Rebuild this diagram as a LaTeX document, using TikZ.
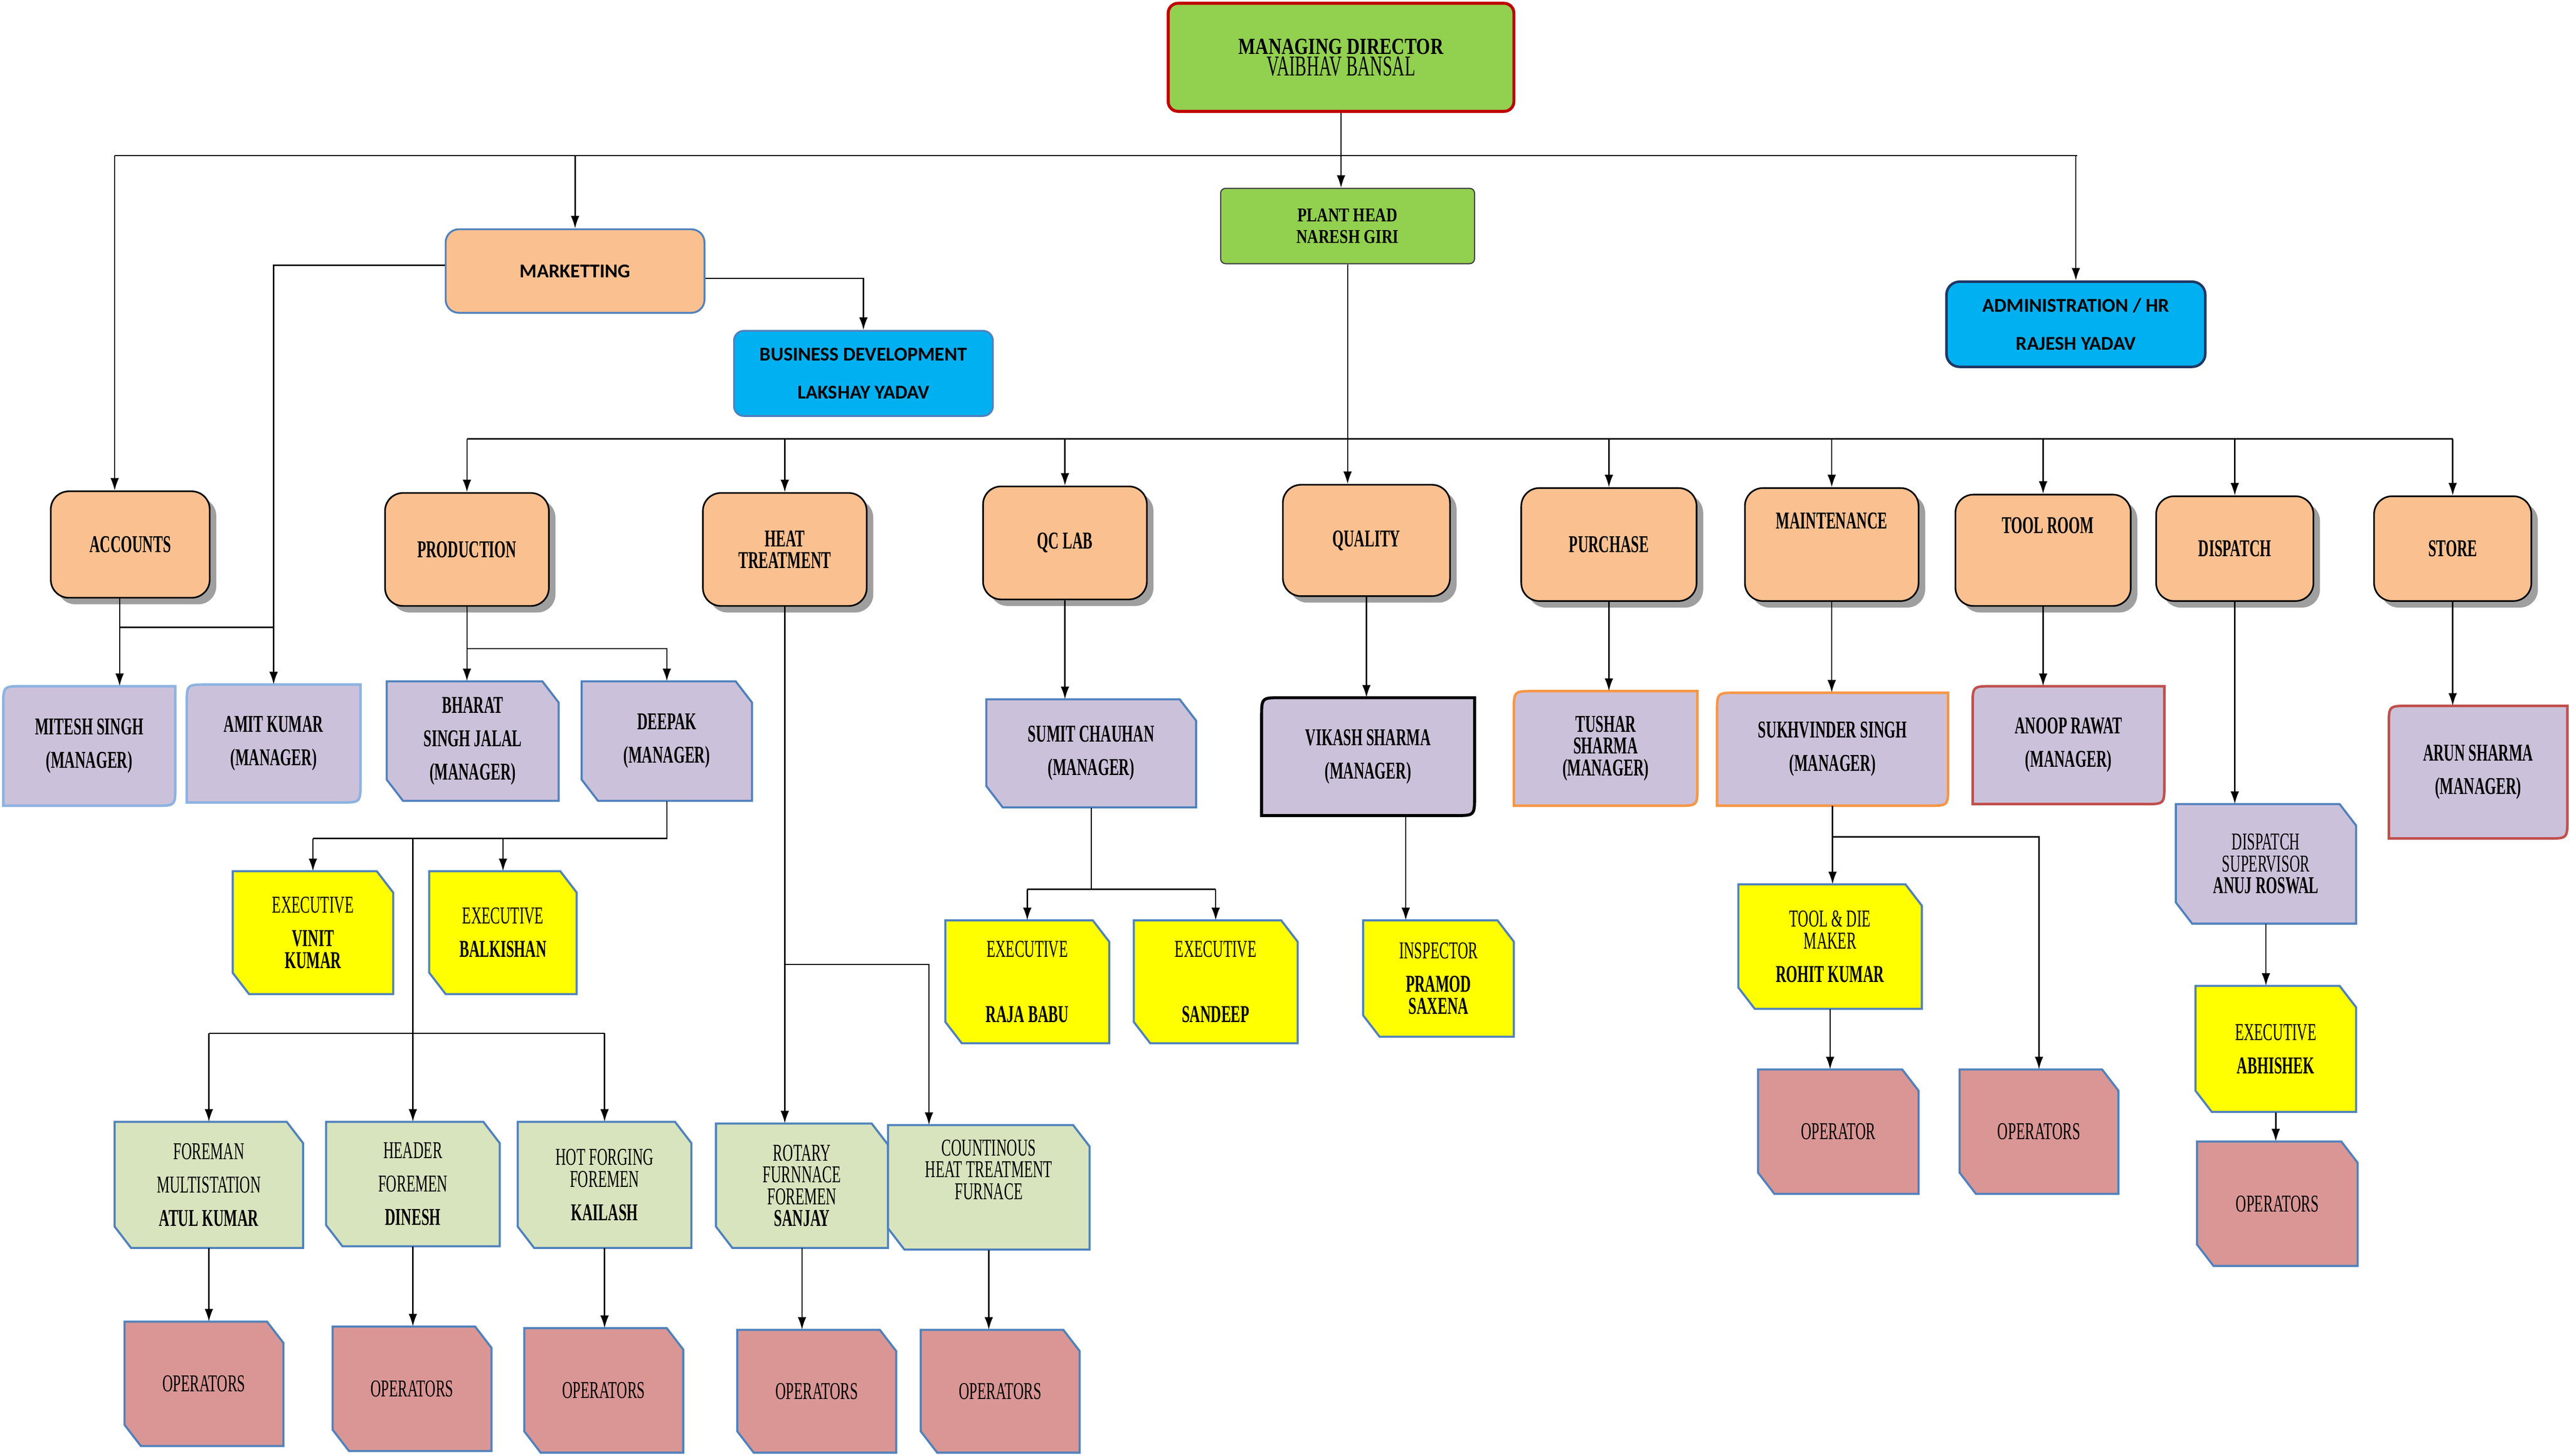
\documentclass[tikz,border=0pt]{standalone}
\usepackage{fontspec}
\setmainfont{Liberation Serif}[FakeStretch=0.6]
\newfontfamily\mdf{Liberation Serif}[FakeStretch=0.78]
\newfontfamily\calfont{Carlito}
\usetikzlibrary{arrows.meta,shadows}
\definecolor{orng}{HTML}{FAC090}
\definecolor{lil}{HTML}{CCC1DA}
\definecolor{ltb}{HTML}{8DB3E2}
\definecolor{blu}{HTML}{4F81BD}
\definecolor{yel}{HTML}{FFFF00}
\definecolor{grn}{HTML}{D7E4BD}
\definecolor{opc}{HTML}{D99694}
\definecolor{redb}{HTML}{C0504D}
\definecolor{orgb}{HTML}{F79646}
\definecolor{cyn}{HTML}{00B0F0}
\definecolor{gmd}{HTML}{92D050}
\definecolor{mdr}{HTML}{C00000}
\definecolor{navy}{HTML}{1F3864}
\tikzset{
 arr/.style={-{Latex[length=0.38cm,width=0.26cm]}, line width=1.1pt},
 ln/.style={line width=1.1pt},
 dept/.style={rectangle, rounded corners=0.55cm, fill=orng, draw=black, line width=1.4pt,
   drop shadow={shadow xshift=0.2cm,shadow yshift=-0.2cm,fill=gray!75,opacity=1},
   font=\bfseries\fontsize{21}{19}\selectfont, align=center, inner sep=0},
 tb/.style={inner sep=0, align=center, font=\fontsize{21}{19}\selectfont},
 snipB/.style={fill=lil, draw=blu, line width=1.8pt},
 snipY/.style={fill=yel, draw=blu, line width=1.8pt},
 snipG/.style={fill=grn, draw=blu, line width=1.8pt},
 snipO/.style={fill=opc, draw=blu, line width=1.8pt},
}
\newcommand\snipbox[7]{%
 \draw[#6] (#2,#3) -- ({#4-10},#3) -- (#4,{#3+13}) -- (#4,#5) -- ({#2+10},#5) -- (#2,{#5-13}) -- cycle;
 \node[tb,minimum width={(#4-#2)*0.05cm},minimum height={(#5-#3)*0.05cm}] (#1) at ({(#2+#4)/2},{(#3+#5)/2}) {#7};}
\newcommand\rtwo[7]{%
 \draw[#6] (#2,{#3+12}) .. controls (#2,#3) .. ({#2+12},#3) -- (#4,#3) -- (#4,{#5-12}) .. controls (#4,#5) .. ({#4-12},#5) -- (#2,#5) -- cycle;
 \node[tb,font=\bfseries\fontsize{21}{19}\selectfont,minimum width={(#4-#2)*0.05cm},minimum height={(#5-#3)*0.05cm}] (#1) at ({(#2+#4)/2},{(#3+#5)/2}) {#7};}
\newcommand\dep[6]{\node[dept,minimum width={#4*0.05cm},minimum height={#5*0.05cm}] (#1) at (#2,#3) {#6};}
\begin{document}
\begin{tikzpicture}[x=0.05cm,y=-0.05cm]
\path[use as bounding box] (0,0) rectangle (1568,889);
% top level
\node[rectangle,rounded corners=0.3cm,fill=gmd,draw=mdr,line width=2.6pt,minimum width=10.55cm,minimum height=3.3cm,align=center,inner sep=0] (md) at (818.5,35)
 {\mdf\bfseries\fontsize{20}{22}\selectfont MANAGING DIRECTOR\\[1pt]\fontsize{25}{27}\selectfont VAIBHAV BANSAL};
\node[rectangle,rounded corners=0.15cm,fill=gmd,draw=black!75,line width=1pt,minimum width=7.75cm,minimum height=2.3cm,align=center,inner sep=0,font=\mdf\bfseries\fontsize{17}{19}\selectfont] (ph) at (822.5,138) {PLANT HEAD\\NARESH GIRI};
\node[rectangle,rounded corners=0.4cm,fill=orng,draw=blu,line width=1.6pt,minimum width=7.9cm,minimum height=2.55cm,inner sep=0,font=\calfont\bfseries\fontsize{17}{19}\selectfont] (mk) at (351,165.5) {MARKETTING};
\node[rectangle,rounded corners=0.3cm,fill=cyn,draw=blu,line width=1.6pt,minimum width=7.9cm,minimum height=2.6cm,align=center,inner sep=0,font=\calfont\bfseries\fontsize{17}{19}\selectfont] (bd) at (527,228) {BUSINESS DEVELOPMENT\\[14pt]LAKSHAY YADAV};
\node[rectangle,rounded corners=0.4cm,fill=cyn,draw=navy,line width=2.2pt,minimum width=7.9cm,minimum height=2.6cm,align=center,inner sep=0,font=\calfont\bfseries\fontsize{17}{19}\selectfont] (hr) at (1267,198) {ADMINISTRATION / HR\\[14pt]RAJESH YADAV};
% departments
\dep{acc}{79.5}{332.5}{97}{65}{ACCOUNTS}
\dep{prod}{285}{335.5}{100}{69}{PRODUCTION}
\dep{heat}{479}{335.5}{100}{69}{HEAT\\TREATMENT}
\dep{qc}{650}{331.5}{100}{69}{QC LAB}
\dep{qual}{834}{330}{102}{68}{QUALITY}
\dep{pur}{982}{332.5}{107}{69}{PURCHASE}
\dep{mnt}{1118}{332.5}{106}{69}{}
\node[tb,font=\bfseries\fontsize{21}{19}\selectfont] (mntL) at (1118,318) {MAINTENANCE};
\dep{tool}{1247}{336}{107}{68}{}
\node[tb,font=\bfseries\fontsize{21}{19}\selectfont] (toolL) at (1250,321) {TOOL ROOM};
\dep{dsp}{1364}{335}{96}{64}{DISPATCH}
\dep{store}{1497}{335}{96}{64}{STORE}
% managers
\rtwo{mitesh}{2}{419}{107}{492}{fill=lil,draw=ltb,line width=2.2pt}{MITESH SINGH\\[10pt](MANAGER)}
\rtwo{amit}{114}{418}{220}{490}{fill=lil,draw=ltb,line width=2.2pt}{AMIT KUMAR\\[10pt](MANAGER)}
\rtwo{vik}{770}{426}{900}{498}{fill=lil,draw=black,line width=2.6pt}{VIKASH SHARMA\\[10pt](MANAGER)}
\rtwo{tushar}{924}{422}{1036}{492}{fill=lil,draw=orgb,line width=2.2pt}{TUSHAR\\SHARMA\\(MANAGER)}
\rtwo{sukh}{1048}{423}{1189}{492}{fill=lil,draw=orgb,line width=2.2pt}{SUKHVINDER SINGH\\[10pt](MANAGER)}
\rtwo{anoop}{1204}{419}{1321}{491}{fill=lil,draw=redb,line width=2.2pt}{ANOOP RAWAT\\[10pt](MANAGER)}
\rtwo{arun}{1458}{431}{1567}{512}{fill=lil,draw=redb,line width=2.2pt}{ARUN SHARMA\\[10pt](MANAGER)}
\snipbox{bharat}{236}{416}{341}{489}{snipB}{\textbf{BHARAT}\\[10pt]\textbf{SINGH JALAL}\\[10pt]\textbf{(MANAGER)}}
\snipbox{deepak}{355}{416}{459}{489}{snipB}{\textbf{DEEPAK}\\[10pt]\textbf{(MANAGER)}}
\snipbox{sumit}{602}{427}{730}{493}{snipB}{\textbf{SUMIT CHAUHAN}\\[10pt]\textbf{(MANAGER)}}
\snipbox{dsup}{1328}{491}{1438}{564}{snipB}{DISPATCH\\SUPERVISOR\\\textbf{ANUJ ROSWAL}}
% executives
\snipbox{vinit}{142}{532}{240}{607}{snipY}{EXECUTIVE\\[10pt]\textbf{VINIT}\\\textbf{KUMAR}}
\snipbox{balk}{262}{532}{352}{607}{snipY}{EXECUTIVE\\[10pt]\textbf{BALKISHAN}}
\snipbox{raja}{577}{562}{677}{637}{snipY}{EXECUTIVE\\[38pt]\textbf{RAJA BABU}}
\snipbox{sand}{692}{562}{792}{637}{snipY}{EXECUTIVE\\[38pt]\textbf{SANDEEP}}
\snipbox{prm}{832}{562}{924}{633}{snipY}{INSPECTOR\\[10pt]\textbf{PRAMOD}\\\textbf{SAXENA}}
\snipbox{tdm}{1061}{540}{1173}{616}{snipY}{TOOL \& DIE\\MAKER\\[10pt]\textbf{ROHIT KUMAR}}
\snipbox{abh}{1340}{602}{1438}{679}{snipY}{EXECUTIVE\\[10pt]\textbf{ABHISHEK}}
% foremen
\snipbox{fm}{70}{685}{185}{762}{snipG}{FOREMAN\\[10pt]MULTISTATION\\[10pt]\textbf{ATUL KUMAR}}
\snipbox{hdr}{199}{685}{305}{761}{snipG}{HEADER\\[10pt]FOREMEN\\[10pt]\textbf{DINESH}}
\snipbox{hf}{316}{685}{422}{762}{snipG}{HOT FORGING\\FOREMEN\\[10pt]\textbf{KAILASH}}
\snipbox{rot}{437}{686}{542}{762}{snipG}{ROTARY\\FURNNACE\\FOREMEN\\\textbf{SANJAY}}
\snipbox{cont}{542}{687}{665}{763}{snipG}{COUNTINOUS\\HEAT TREATMENT\\FURNACE\\[12pt]~}
% operators
\snipbox{op1}{76}{807}{173}{883}{snipO}{OPERATORS}
\snipbox{op2}{203}{810}{300}{886}{snipO}{OPERATORS}
\snipbox{op3}{320}{811}{417}{887}{snipO}{OPERATORS}
\snipbox{op4}{450}{812}{547}{887}{snipO}{OPERATORS}
\snipbox{op5}{562}{812}{659}{887}{snipO}{OPERATORS}
\snipbox{op6}{1073}{653}{1171}{729}{snipO}{OPERATOR}
\snipbox{op7}{1196}{653}{1293}{729}{snipO}{OPERATORS}
\snipbox{op8}{1341}{697}{1439}{773}{snipO}{OPERATORS}
% connectors
\coordinate (top) at (0,95);
\coordinate (tl) at (70,95);
\coordinate (tr) at (1268,95);
\draw[ln] (md.south) -- (md.south |- top);
\draw[ln] (tl) -- (tr);
\draw[arr] (tl) -- (acc.north -| tl);
\draw[arr] (mk.north |- top) -- (mk.north);
\draw[arr] (hr.north |- top) -- (hr.north);
\draw[arr] (md.south |- top) -- (md.south |- ph.north);
\coordinate (mkR) at (534,170);
\draw[arr] (mk.east |- mkR) -| (bd.north);
\coordinate (mkL) at (180,162);
\draw[arr] (mk.west |- mkL) -| (amit.north);
\coordinate (a1) at (73,383);
\draw[arr] (acc.south -| a1) -- (mitesh.north -| a1);
\draw[ln] (a1) -- (a1 -| amit.north);
\coordinate (bus) at (0,268);
\draw[arr] (ph.south) -- (ph.south |- qual.north);
\draw[ln] (prod.north |- bus) -- (store.north |- bus);
\foreach \n in {prod,heat,qc,pur,mnt,tool,dsp,store} \draw[arr] (\n.north |- bus) -- (\n.north);
\draw[arr] (prod.south) -- (prod.south |- bharat.north);
\coordinate (p396) at (0,396);
\draw[arr] (prod.south |- p396) -| (deepak.north);
\coordinate (d512) at (0,512);
\draw[ln] (deepak.south) -- (deepak.south |- d512) -- (d512 -| vinit.north);
\draw[arr] (d512 -| vinit.north) -- (vinit.north);
\draw[arr] (d512 -| balk.north) -- (balk.north);
\draw[arr] (d512 -| hdr.north) -- (hdr.north);
\coordinate (d631) at (0,631);
\draw[ln] (d631 -| fm.north) -- (d631 -| hf.north);
\draw[arr] (d631 -| fm.north) -- (fm.north);
\draw[arr] (d631 -| hf.north) -- (hf.north);
\foreach \pa/\ch in {fm/op1,hdr/op2,hf/op3,rot/op4,cont/op5,tdm/op6,abh/op8,qc/sumit,qual/vik,pur/tushar,mnt/sukh,tool/anoop,dsp/dsup,dsup/abh,store/arun,sukh/tdm}
  \draw[arr] (\pa.south) -- (\pa.south |- \ch.north);
\draw[arr] (heat.south) -- (heat.south |- rot.north);
\coordinate (h589) at (0,589);
\coordinate (x567) at (567,0);
\draw[arr] (heat.south |- h589) -- (h589 -| x567) -- (cont.north -| x567);
\coordinate (s543) at (0,543);
\draw[ln] (sumit.south) -- (sumit.south |- s543);
\draw[ln] (s543 -| raja.north) -- (s543 -| sand.north);
\draw[arr] (s543 -| raja.north) -- (raja.north);
\draw[arr] (s543 -| sand.north) -- (sand.north);
\coordinate (x858) at (858,0);
\draw[arr] (vik.south -| x858) -- (prm.north -| x858);
\coordinate (m511) at (0,511);
\draw[arr] (sukh.south |- m511) -| (op7.north);
\end{tikzpicture}
\end{document}
